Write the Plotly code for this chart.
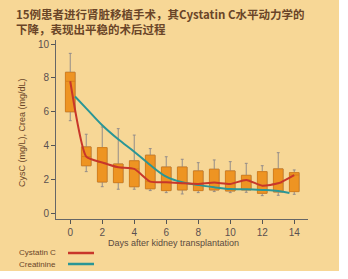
import plotly.graph_objects as go

days = list(range(15))
upper = [9.45, 4.67, 5.1, 5.0, 4.62, 3.82, 3.34, 3.19, 2.99, 3.15, 3.05, 2.95, 2.81, 3.58, 2.56]
q3 = [8.33, 3.92, 3.88, 2.91, 3.1, 3.43, 2.73, 2.73, 2.5, 2.6, 2.5, 2.24, 2.46, 2.62, 2.4]
q1 = [6.0, 2.81, 1.85, 1.81, 1.57, 1.45, 1.34, 1.38, 1.34, 1.38, 1.32, 1.38, 1.18, 1.26, 1.28]
lower = [5.47, 2.46, 1.57, 1.42, 1.42, 1.34, 1.22, 1.14, 1.22, 1.28, 1.22, 1.24, 1.04, 1.06, 1.12]
cysc = [7.8, 3.35, 3.0, 2.72, 2.62, 1.87, 1.83, 1.77, 1.73, 1.81, 1.73, 1.97, 1.63, 1.77, 2.26]

crea_days = [0.3, 1, 2, 3, 4, 5, 6, 7, 8, 9, 10, 11, 12, 13, 13.7]
crea = [6.9, 6.2, 5.2, 4.37, 3.64, 2.85, 2.16, 1.83, 1.67, 1.53, 1.43, 1.42, 1.38, 1.32, 1.2]

title_lines = ["15例患者进行肾脏移植手术，其Cystatin C水平动力学的", "下降，表现出平稳的术后过程"]
x_ticks = [0, 2, 4, 6, 8, 10, 12, 14]
y_ticks = [0, 2, 4, 6, 8, 10]

TAN = "#F7D796"
fig = go.Figure()

# whiskers (gray)
fig.add_trace(go.Box(x=days, q1=q1, median=cysc, q3=q3, lowerfence=lower, upperfence=upper,
                     width=0.6, whiskerwidth=0.3, fillcolor="rgba(0,0,0,0)",
                     line=dict(color="#938C8A", width=1), boxpoints=False, showlegend=False,
                     hoverinfo="skip"))
# boxes (orange)
fig.add_trace(go.Box(x=days, q1=q1, median=cysc, q3=q3, lowerfence=q1, upperfence=q3,
                     width=0.6, whiskerwidth=0, fillcolor="#EE9422",
                     line=dict(color="#D7801C", width=1), boxpoints=False, showlegend=False))

fig.add_trace(go.Scatter(x=crea_days, y=crea, mode="lines", line=dict(color="#2A9696", width=2, shape="spline"),
                         showlegend=False))
fig.add_trace(go.Scatter(x=days, y=cysc, mode="lines", line=dict(color="#C8362A", width=2, shape="spline", smoothing=0.5),
                         showlegend=False))

tickfont = dict(family="Liberation Sans, Arial", size=10, color="#5A5050")
fig.update_layout(
    width=348, height=279, boxmode="overlay",
    margin=dict(l=56, r=40, t=40, b=60),
    paper_bgcolor="white", plot_bgcolor="#F2F2F6",
    xaxis=dict(range=[-0.89, 14.86], tickvals=x_ticks, ticks="outside", ticklen=4, tickcolor="#555",
               showgrid=False, zeroline=False, showline=True, linecolor="#666", linewidth=1,
               tickfont=tickfont),
    yaxis=dict(range=[-0.34, 10.24], tickvals=y_ticks, ticks="outside", ticklen=4, tickcolor="#555",
               showgrid=False, zeroline=False, showline=True, linecolor="#666", linewidth=1,
               tickfont=tickfont),
    shapes=[
        dict(type="rect", xref="paper", yref="paper", x0=-56/252, x1=(339-56)/252, y0=(219-271)/179, y1=219/179,
             fillcolor=TAN, line=dict(width=0), layer="below"),
        dict(type="line", xref="paper", yref="paper", x0=(68-56)/252, x1=(94-56)/252,
             y0=(219-253)/179, y1=(219-253)/179, line=dict(color="#C8362A", width=2.5)),
        dict(type="line", xref="paper", yref="paper", x0=(68-56)/252, x1=(94-56)/252,
             y0=(219-264)/179, y1=(219-264)/179, line=dict(color="#2A9696", width=2.5)),
    ],
    annotations=[
        dict(text="<b>" + title_lines[0] + "</b><br><b>" + title_lines[1] + "</b>",
             xref="paper", yref="paper", x=(14-56)/252, y=(219-21.5)/179,
             xanchor="left", yanchor="middle", align="left", showarrow=False,
             font=dict(family="Noto Sans CJK SC", size=11.5, color="#6A4528")),
        dict(text="CysC (mg/L), Crea (mg/dL)", xref="paper", yref="paper", x=(22-56)/252, y=(219-133)/179,
             textangle=-90, xanchor="center", yanchor="middle", showarrow=False,
             font=dict(family="Liberation Sans, Arial", size=9, color="#6A4528")),
        dict(text="Days after kidney transplantation", xref="paper", yref="paper", x=(173-56)/252, y=(219-243)/179,
             xanchor="center", yanchor="middle", showarrow=False,
             font=dict(family="Liberation Sans, Arial", size=9, color="#5A4A40")),
        dict(text="Cystatin C", xref="paper", yref="paper", x=(17-56)/252, y=(219-253)/179,
             xanchor="left", yanchor="middle", showarrow=False,
             font=dict(family="Liberation Sans, Arial", size=8, color="#6A4528")),
        dict(text="Creatinine", xref="paper", yref="paper", x=(17-56)/252, y=(219-264)/179,
             xanchor="left", yanchor="middle", showarrow=False,
             font=dict(family="Liberation Sans, Arial", size=8, color="#6A4528")),
    ],
)
fig.write_html("out.html")
